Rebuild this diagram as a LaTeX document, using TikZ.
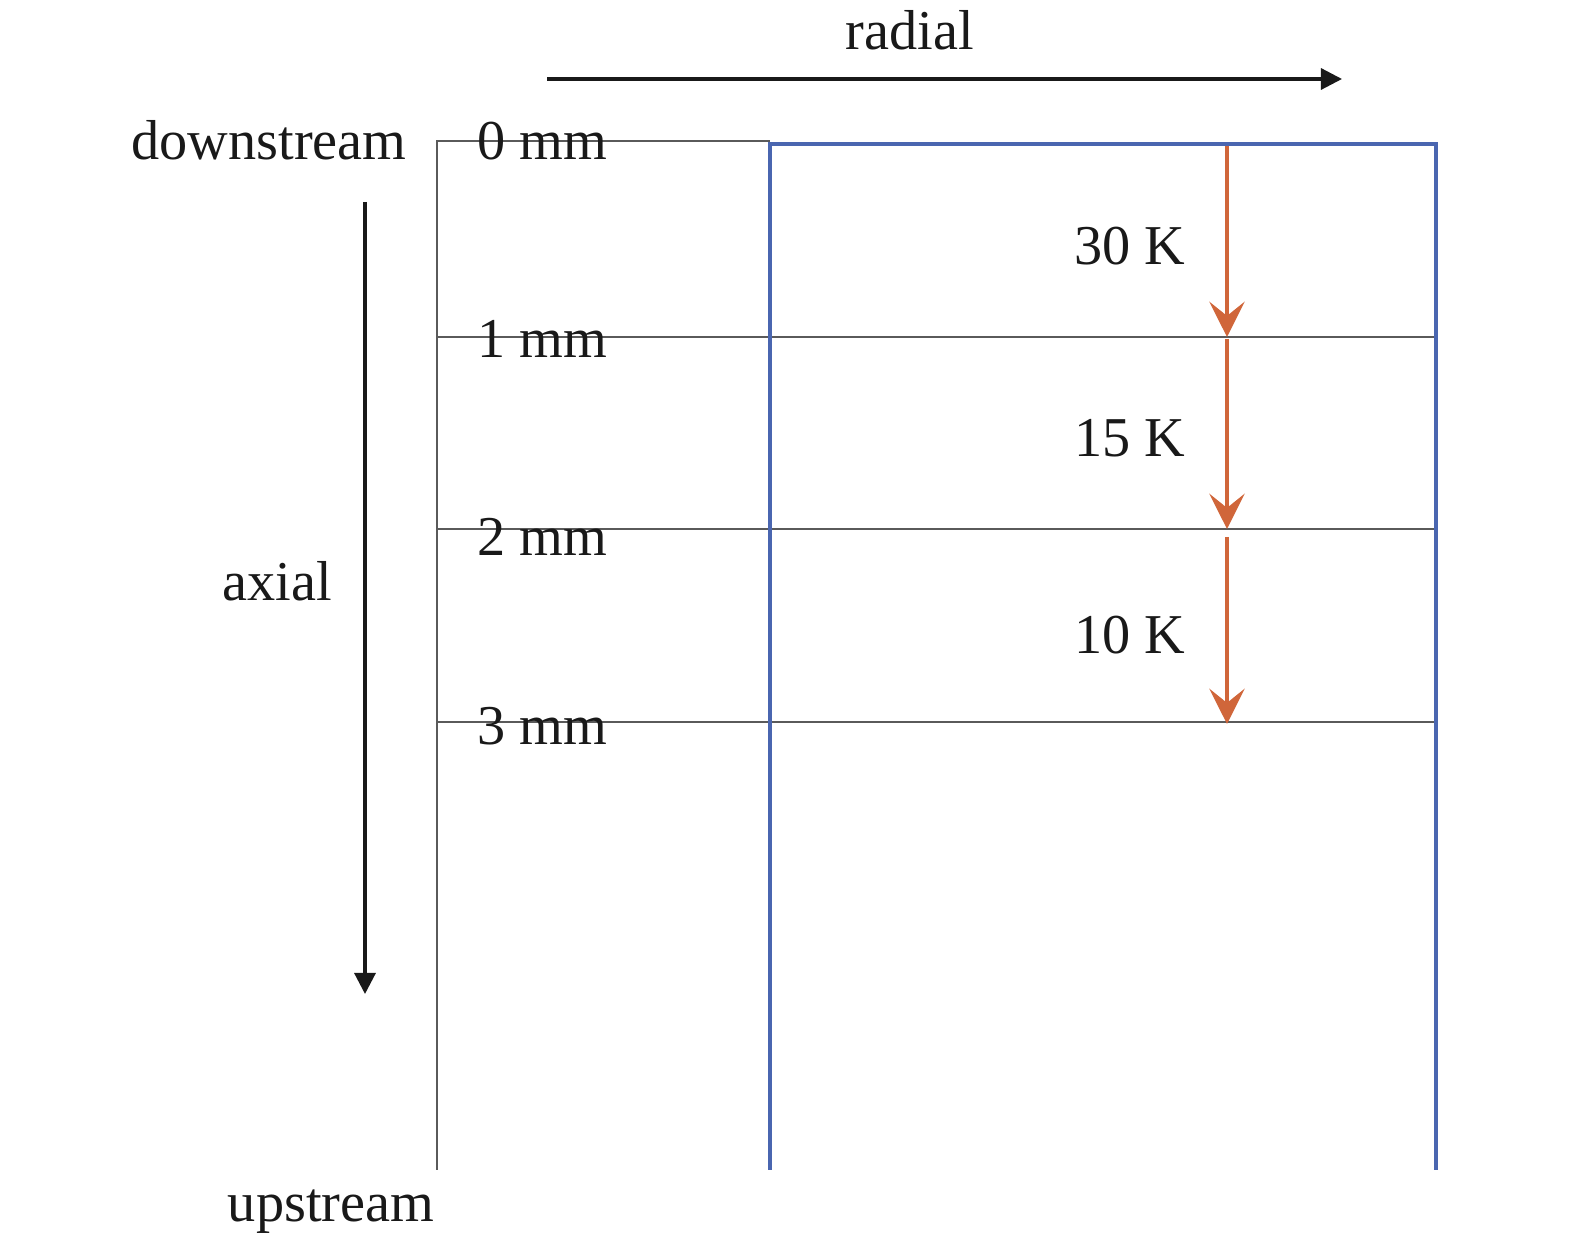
\documentclass[tikz,border=0pt]{standalone}
\usepackage{fontspec}
\setmainfont{Liberation Serif}
\usetikzlibrary{arrows.meta}
\definecolor{gridgray}{HTML}{5A5A5A}
\definecolor{wallblue}{HTML}{4A66B0}
\definecolor{heatorange}{HTML}{D0663A}
\tikzset{
  px/.style={x=0.01cm,y=-0.01cm},
  lbl/.style={font=\fontsize{16}{19}\selectfont, inner sep=0pt, text=black!90},
  gridline/.style={draw=gridgray, line width=0.6pt},
  wall/.style={draw=wallblue, line width=1.3pt},
  dirarrow/.style={draw=black!90, line width=0.9pt, -{Triangle[length=6pt,width=6pt]}},
  heatarrow/.style={draw=heatorange, line width=1.4pt, -{Stealth[length=10pt,width=10pt,inset=4pt]}}
}
\begin{document}
\begin{tikzpicture}[px]
\useasboundingbox (0,0) rectangle (1575,1240);
% coordinates
\coordinate (gTop) at (437,141);
\coordinate (gBot) at (437,1170);
\coordinate (gTopR) at (770,141);
\coordinate (bTL) at (770,144);
\coordinate (bTR) at (1436,144);
\coordinate (bBL) at (770,1170);
\coordinate (bBR) at (1436,1170);
\foreach \n/\y in {1/337,2/529,3/722}{
  \coordinate (hL\n) at (437,\y);
  \coordinate (hR\n) at (1434,\y);
}
% grid lines
\draw[gridline] (gBot) -- (gTop) -- (gTopR);
\draw[gridline] (hL1) -- (hR1);
\draw[gridline] (hL2) -- (hR2);
\draw[gridline] (hL3) -- (hR3);
% blue wall
\draw[wall] (bBL) -- (bTL) -- (bTR) -- (bBR);
% labels
\node[lbl] (radial) at (910,30) {radial};
\node[lbl] (down) at (269,140) {downstream};
\node[lbl] (axial) at (277,581) {axial};
\node[lbl] (up) at (331,1212) {upstream};
\node[lbl] (m0) at (542,141) {0 mm};
\node[lbl] (m1) at (542,339) {1 mm};
\node[lbl] (m2) at (542,537) {2 mm};
\node[lbl] (m3) at (542,726) {3 mm};
\node[lbl] (k30) at (1130,246) {30 K};
\node[lbl] (k15) at (1130,438) {15 K};
\node[lbl] (k10) at (1130,635) {10 K};
% direction arrows
\coordinate (rS) at (547,79);
\coordinate (rE) at (1342,79);
\draw[dirarrow] (rS) -- (rE);
\coordinate (aS) at (365,202);
\coordinate (aE) at (365,994);
\draw[dirarrow] (aS) -- (aE);
% heat arrows
\coordinate (o0) at (1227,146);
\coordinate (o1) at (1227,337);
\coordinate (o1s) at (1227,339);
\coordinate (o2) at (1227,529);
\coordinate (o2s) at (1227,537);
\coordinate (o3) at (1227,724);
\draw[heatarrow] (o0) -- (o1);
\draw[heatarrow] (o1s) -- (o2);
\draw[heatarrow] (o2s) -- (o3);
\end{tikzpicture}
\end{document}
